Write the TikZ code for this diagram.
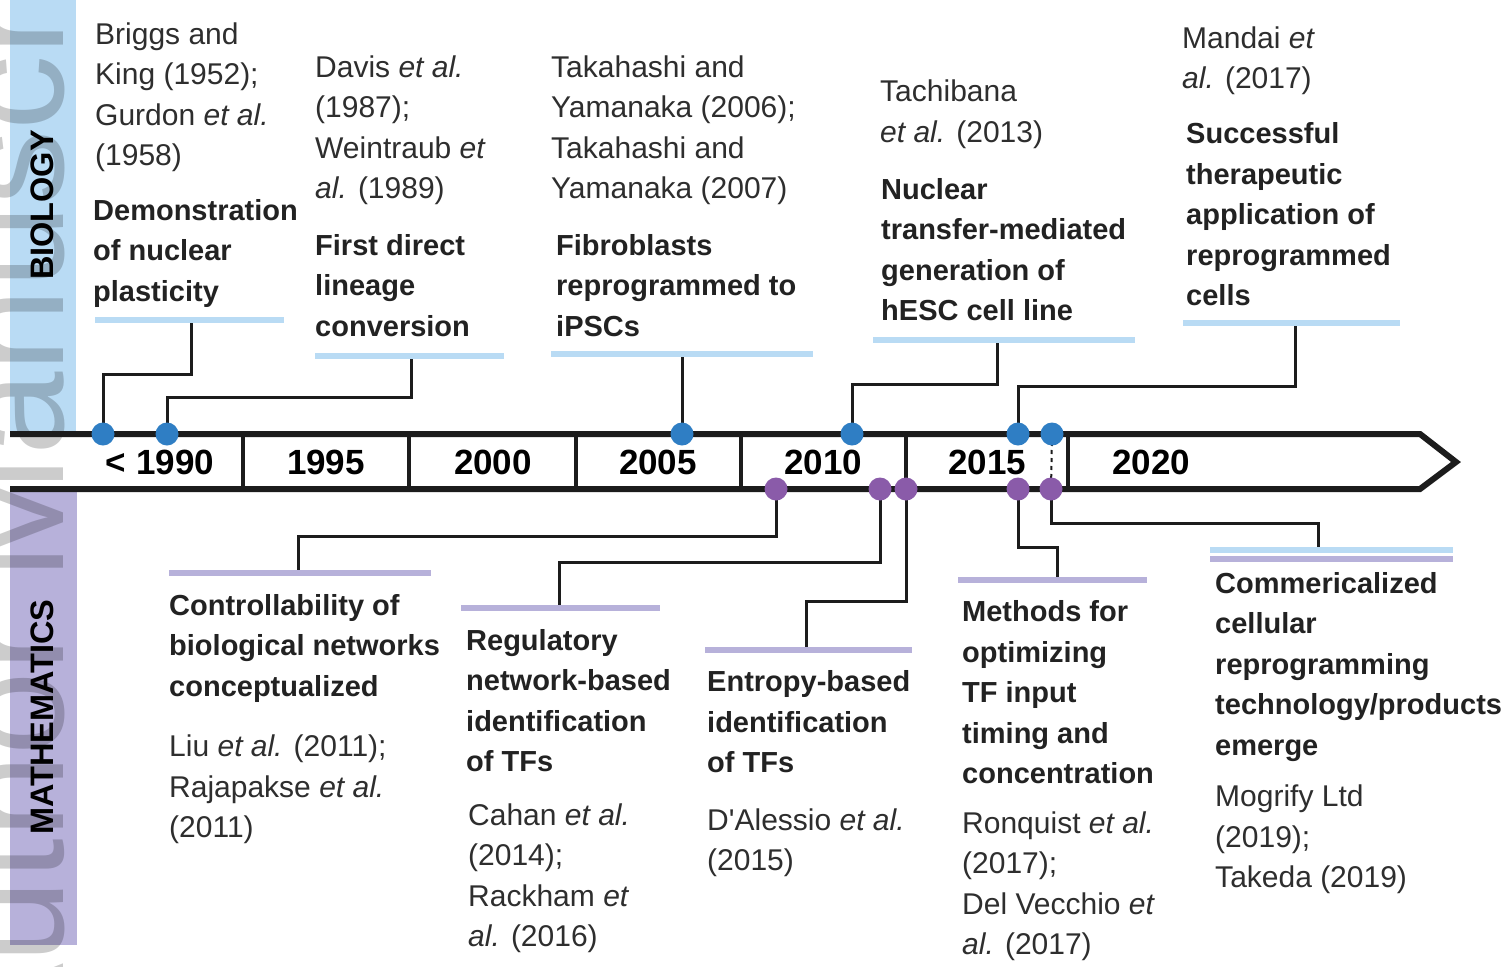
\documentclass[tikz,border=0pt]{standalone}
\usepackage{fontspec}
\setmainfont{Liberation Sans}
\definecolor{bluebar}{HTML}{B9DBF4}
\definecolor{purplebar}{HTML}{B7B1DA}
\definecolor{bluedot}{HTML}{2F7EC4}
\definecolor{purpledot}{HTML}{8A5BA9}
\definecolor{ink}{HTML}{1C1C1C}
\definecolor{txtbold}{HTML}{222222}
\definecolor{txtreg}{HTML}{2E2E2E}
\newcommand{\straightquote}{\XeTeXglyph\XeTeXcharglyph"27\relax}
\begin{document}
\begin{tikzpicture}[x=1pt,y=-1pt,
  ref/.style={anchor=base west, inner sep=0, align=left, text=txtreg, font=\fontsize{30}{40.5}\selectfont},
  ttl/.style={anchor=base west, inner sep=0, align=left, text=txtbold, font=\fontsize{29}{40.5}\selectfont\bfseries},
  yearlbl/.style={anchor=base, inner sep=0, text=black, font=\fontsize{35}{40}\selectfont\bfseries},
  sidelbl/.style={rotate=90, inner sep=0, text=black, font=\fontsize{32.5}{34}\selectfont\bfseries},
  bdot/.style={circle, fill=bluedot, inner sep=0, minimum size=23pt},
  pdot/.style={circle, fill=purpledot, inner sep=0, minimum size=23pt},
  ublue/.style={rectangle, fill=bluebar, inner sep=0, minimum height=6pt},
  upurple/.style={rectangle, fill=purplebar, inner sep=0, minimum height=6pt},
  conn/.style={draw=ink, line width=3pt},
  divider/.style={draw=ink, line width=4.5pt},
]
\useasboundingbox (0,0) rectangle (1511,966);
\fill[white] (0,0) rectangle (1511,966);

% side bars
\fill[bluebar] (10,0) rectangle (76,432);
\fill[purplebar] (10,490) rectangle (77,945);

% watermark
\begin{scope}
\clip (0,0) rectangle (1511,966);
\node[rotate=90, anchor=base west, inner sep=0, text=black, opacity=0.2,
  font=\fontsize{150}{150}\selectfont] (wm) at (63,1064) {Author Manuscripts};
\end{scope}

\node[sidelbl] (bio) at (42,205) {BIOLOGY};
\node[sidelbl] (math) at (42,717) {MATHEMATICS};

% timeline bar
\draw[ink, line width=6pt, miter limit=10] (10,434) -- (1420,434) -- (1456,462) -- (1420,489) -- (10,489);
\foreach \xx in {243,409,576,741,906,1068} {
  \draw[divider] (\xx,434) -- (\xx,489);
}
\node[yearlbl] (y1990) at (160,474) {< 1990};
\node[yearlbl] (y1995) at (326,474) {1995};
\node[yearlbl] (y2000) at (493,474) {2000};
\node[yearlbl] (y2005) at (658,474) {2005};
\node[yearlbl] (y2010) at (823,474) {2010};
\node[yearlbl] (y2015) at (987,474) {2015};
\node[yearlbl] (y2020) at (1151,474) {2020};

% dot positions
\coordinate (b1) at (103,434);
\coordinate (b2) at (167,434);
\coordinate (b3) at (682,434);
\coordinate (b4) at (852,434);
\coordinate (b5) at (1018,434);
\coordinate (b6) at (1052,434);
\coordinate (p1) at (776,489);
\coordinate (p2) at (880,489);
\coordinate (p3) at (906,489);
\coordinate (p4) at (1018,489);
\coordinate (p5) at (1051,489);

% underlines
\node[ublue, minimum width=189pt] (u1) at (189.5,320) {};
\node[ublue, minimum width=189pt] (u2) at (409.5,356) {};
\node[ublue, minimum width=262pt] (u3) at (682,354) {};
\node[ublue, minimum width=262pt] (u4) at (1004,340) {};
\node[ublue, minimum width=217pt] (u5) at (1291.5,323) {};
\node[upurple, minimum width=262pt] (u6) at (300,573) {};
\node[upurple, minimum width=199pt] (u7) at (560,608) {};
\node[upurple, minimum width=207pt] (u8) at (808.5,650) {};
\node[upurple, minimum width=189pt] (u9) at (1052.5,580) {};
\node[ublue, minimum width=243pt] (u10a) at (1331.5,550) {};
\node[upurple, minimum width=243pt] (u10b) at (1331.5,559) {};

% connectors
\draw[conn] (u1.south -| 191,0) |- (b1 |- 0,374) -- (b1);
\draw[conn] (u2.south -| 411,0) |- (b2 |- 0,397) -- (b2);
\draw[conn] (u3.south -| b3) -- (b3);
\draw[conn] (u4.south -| 997,0) |- (b4 |- 0,384) -- (b4);
\draw[conn] (u5.south -| 1295,0) |- (b5 |- 0,386) -- (b5);
\draw[conn] (u6.north -| 298,0) |- (p1 |- 0,536) -- (p1);
\draw[conn] (u7.north -| 559,0) |- (p2 |- 0,562) -- (p2);
\draw[conn] (u8.north -| 806,0) |- (p3 |- 0,601) -- (p3);
\draw[conn] (u9.north -| 1057,0) |- (p4 |- 0,547) -- (p4);
\draw[conn] (u10a.north -| 1318,0) |- (p5 |- 0,523) -- (p5);
\draw[ink, line width=2pt, dash pattern=on 4pt off 4pt] (b6) -- (p5);

% dots
\foreach \d in {b1,b2,b3,b4,b5,b6} { \node[bdot] (dot\d) at (\d) {}; }
\foreach \d in {p1,p2,p3,p4,p5} { \node[pdot] (dot\d) at (\d) {}; }

% biology texts (anchored at the baseline of the last line)
\node[ref] (r1) at (95,165.5) {Briggs and\\King (1952);\\Gurdon \textit{et al.}\\(1958)};
\node[ttl] (t1) at (93,301) {Demonstration\\of nuclear\\plasticity};
\node[ref] (r2) at (315,198.5) {Davis \textit{et al.}\\(1987);\\Weintraub \textit{et}\\\textit{al.} (1989)};
\node[ttl] (t2) at (315,336) {First direct\\lineage\\conversion};
\node[ref] (r3) at (551,198.5) {Takahashi and\\Yamanaka (2006);\\Takahashi and\\Yamanaka (2007)};
\node[ttl] (t3) at (556,336) {Fibroblasts\\reprogrammed to\\iPSCs};
\node[ref] (r4) at (880,142) {Tachibana\\\textit{et al.} (2013)};
\node[ttl] (t4) at (881,320.5) {Nuclear\\transfer-mediated\\generation of\\hESC cell line};
\node[ref] (r5) at (1182,88.5) {Mandai \textit{et}\\\textit{al.} (2017)};
\node[ttl] (t5) at (1186,305.5) {Successful\\therapeutic\\application of\\reprogrammed\\cells};

% mathematics texts
\node[ttl] (t6) at (169,696) {Controllability of\\biological networks\\conceptualized};
\node[ref] (r6) at (169,837.5) {Liu \textit{et al.} (2011);\\Rajapakse \textit{et al.}\\(2011)};
\node[ttl] (t7) at (466,771.5) {Regulatory\\network-based\\identification\\of TFs};
\node[ref] (r7) at (468,946.5) {Cahan \textit{et al.}\\(2014);\\Rackham \textit{et}\\\textit{al.} (2016)};
\node[ttl] (t8) at (707,772.5) {Entropy-based\\identification\\of TFs};
\node[ref] (r8) at (707,870.5) {D\straightquote Alessio \textit{et al.}\\(2015)};
\node[ttl] (t9) at (962,783.5) {Methods for\\optimizing\\TF input\\timing and\\concentration};
\node[ref] (r9) at (962,954.5) {Ronquist \textit{et al.}\\(2017);\\Del Vecchio \textit{et}\\\textit{al.} (2017)};
\node[ttl] (t10) at (1215,755) {Commericalized\\cellular\\reprogramming\\technology/products\\emerge};
\node[ref] (r10) at (1215,887.5) {Mogrify Ltd\\(2019);\\Takeda (2019)};
\end{tikzpicture}
\end{document}
